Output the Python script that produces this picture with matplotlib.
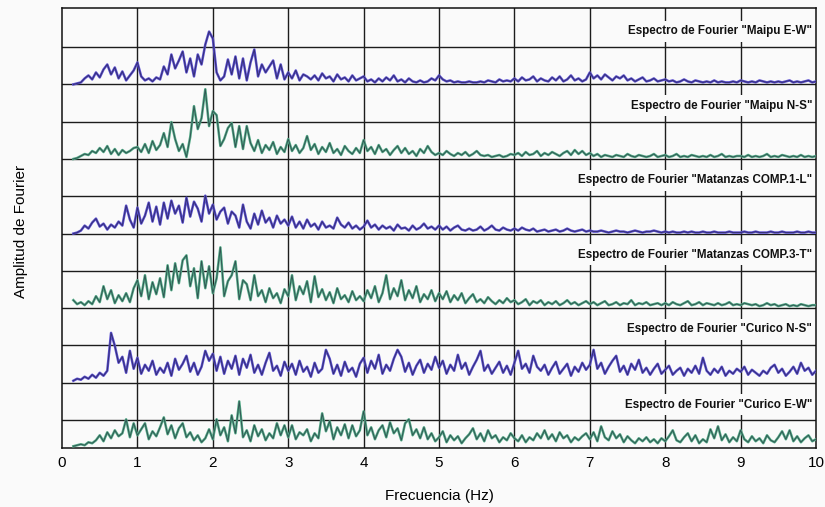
import numpy as np
import matplotlib
matplotlib.use("Agg")
import matplotlib.pyplot as plt

# Fourier amplitude spectra (relative amplitude), sampled every 0.05 Hz from 0.15 Hz to 10 Hz
F_START, F_STEP = 0.15, 0.05

maipu_ew = (
    [0, 1, 2, 6, 9, 5, 12, 7, 15, 20, 10, 17, 6, 13, 4, 9, 14]
    + [22, 8, 4, 6, 3, 7, 5, 18, 10, 30, 16, 24, 33, 12, 26, 8, 30, 20, 40, 53]
    + [46, 12, 4, 8, 25, 10, 28, 6, 26, 4, 22, 35, 8, 20, 12, 18, 24, 6, 20, 5]
    + [12, 6, 14, 4, 10, 8, 5, 9, 4, 11, 6, 8, 3, 10, 5, 7, 3, 9, 4, 6]
    + [8, 3, 5, 2, 6, 3, 7, 4, 9, 3, 5, 2, 6, 3, 2, 4, 2, 3, 6, 4]
    + [9, 5, 3, 4, 2, 3, 2, 2, 3, 2, 2, 3, 2, 4, 3, 2, 5, 3, 4, 3]
    + [6, 3, 7, 4, 5, 8, 3, 6, 4, 3, 7, 4, 8, 3, 5, 9, 4, 6, 3, 5]
    + [12, 6, 9, 5, 10, 7, 4, 8, 6, 9, 4, 6, 3, 5, 7, 3, 4, 6, 3, 4]
    + [5, 3, 4, 2, 3, 5, 3, 2, 4, 3, 2, 3, 2, 4, 2, 3, 2, 2, 3, 2]
    + [4, 3, 2, 3, 2, 4, 3, 2, 3, 2, 3, 2, 3, 4, 2, 3, 2, 3, 4, 2]
    + [3]
)

maipu_ns = (
    [0, 1, 3, 5, 4, 8, 6, 11, 7, 13, 5, 10, 4, 9, 6, 8, 11]
    + [12, 7, 15, 6, 18, 9, 14, 26, 12, 37, 20, 8, 15, 2, 22, 53, 30, 41, 70, 33]
    + [48, 44, 13, 20, 31, 36, 12, 33, 10, 33, 16, 8, 19, 6, 14, 9, 17, 5, 12, 7]
    + [20, 8, 14, 6, 11, 23, 9, 15, 5, 12, 7, 16, 6, 10, 4, 13, 8, 5, 11, 6]
    + [19, 8, 12, 5, 14, 7, 10, 4, 9, 13, 6, 11, 5, 8, 3, 10, 6, 13, 7, 4]
    + [6, 4, 8, 5, 3, 6, 4, 7, 3, 5, 8, 4, 3, 4, 2, 3, 4, 2, 3, 5]
    + [4, 6, 3, 7, 4, 5, 8, 3, 6, 4, 7, 5, 3, 6, 8, 4, 9, 5, 8, 4]
    + [6, 3, 5, 2, 4, 3, 2, 4, 3, 2, 5, 3, 2, 4, 3, 2, 3, 5, 2, 3]
    + [4, 2, 3, 5, 2, 3, 2, 4, 3, 2, 3, 2, 4, 2, 3, 5, 2, 3, 2, 3]
    + [3, 2, 4, 2, 3, 2, 3, 5, 2, 3, 2, 4, 3, 2, 3, 2, 4, 2, 3, 2]
    + [3]
)

matanzas_1l = (
    [0, 1, 3, 8, 5, 11, 15, 7, 10, 4, 9, 6, 12, 8, 28, 14, 6]
    + [26, 10, 18, 31, 12, 27, 9, 31, 15, 33, 20, 28, 11, 36, 17, 32, 25, 12, 38, 20]
    + [29, 14, 22, 26, 10, 22, 18, 6, 29, 12, 5, 20, 9, 23, 11, 16, 6, 18, 10, 14]
    + [8, 17, 6, 12, 5, 14, 7, 10, 4, 12, 6, 8, 5, 16, 9, 6, 11, 5, 8, 4]
    + [7, 13, 6, 9, 4, 8, 5, 7, 3, 9, 5, 6, 3, 8, 4, 6, 10, 5, 7, 4]
    + [8, 4, 7, 3, 6, 8, 4, 3, 5, 3, 4, 7, 3, 5, 8, 4, 3, 6, 4, 3]
    + [5, 3, 6, 4, 3, 5, 2, 3, 4, 2, 3, 4, 2, 3, 5, 3, 2, 3, 4, 2]
    + [3, 2, 2, 3, 2, 1, 2, 3, 2, 2, 1, 2, 3, 2, 1, 2, 2, 3, 2, 1]
    + [2, 1, 2, 1, 1, 2, 1, 2, 1, 1, 2, 1, 1, 2, 1, 1, 1, 2, 1, 1]
    + [1, 2, 1, 1, 2, 1, 1, 1, 2, 1, 1, 2, 1, 1, 1, 2, 1, 1, 2, 1]
    + [1]
)

matanzas_3t = (
    [8, 4, 6, 3, 7, 4, 12, 6, 22, 9, 18, 5, 13, 7, 15, 6, 20]
    + [28, 12, 33, 9, 26, 14, 30, 11, 43, 18, 45, 25, 48, 53, 22, 40, 10, 47, 20, 42]
    + [15, 30, 61, 12, 27, 33, 47, 9, 28, 24, 8, 33, 12, 18, 6, 20, 10, 15, 5, 19]
    + [12, 33, 8, 22, 14, 27, 6, 32, 11, 19, 8, 16, 5, 20, 9, 13, 6, 17, 8, 12]
    + [7, 18, 10, 22, 6, 15, 33, 9, 20, 12, 28, 8, 18, 10, 22, 6, 14, 9, 18, 7]
    + [15, 9, 17, 6, 13, 8, 15, 5, 10, 14, 6, 9, 5, 11, 7, 4, 8, 5, 10, 6]
    + [8, 4, 6, 9, 3, 7, 5, 8, 3, 6, 4, 7, 3, 5, 8, 4, 6, 3, 5, 7]
    + [4, 6, 3, 5, 7, 3, 4, 6, 3, 5, 4, 8, 3, 5, 4, 6, 3, 4, 5, 3]
    + [5, 3, 6, 4, 3, 5, 7, 3, 4, 6, 3, 5, 4, 3, 5, 3, 4, 6, 3, 4]
    + [3, 5, 4, 3, 4, 2, 3, 5, 3, 4, 2, 3, 4, 2, 3, 2, 4, 3, 2, 3]
    + [3]
)

curico_ns = (
    [2, 4, 3, 6, 4, 8, 5, 10, 7, 12, 50, 37, 20, 26, 10, 32, 14]
    + [25, 9, 18, 12, 22, 8, 15, 10, 20, 7, 24, 13, 19, 27, 11, 20, 8, 16, 32, 22]
    + [29, 12, 26, 9, 22, 14, 27, 8, 24, 15, 28, 10, 18, 8, 20, 30, 12, 17, 7, 21]
    + [12, 19, 8, 22, 11, 16, 6, 20, 10, 14, 33, 24, 9, 18, 7, 21, 11, 15, 6, 19]
    + [25, 10, 22, 14, 28, 9, 18, 12, 24, 33, 26, 11, 20, 8, 17, 23, 10, 19, 13, 26]
    + [15, 22, 9, 18, 12, 28, 14, 20, 8, 16, 23, 32, 12, 18, 9, 15, 21, 10, 17, 8]
    + [20, 32, 14, 19, 10, 27, 16, 12, 18, 8, 15, 21, 9, 14, 19, 7, 16, 11, 20, 13]
    + [18, 33, 14, 20, 9, 16, 22, 27, 11, 17, 8, 19, 13, 23, 10, 15, 8, 14, 19, 9]
    + [13, 17, 8, 12, 15, 7, 14, 10, 17, 9, 25, 12, 8, 14, 10, 16, 7, 12, 9, 14]
    + [11, 16, 8, 13, 10, 7, 12, 9, 15, 18, 10, 14, 7, 11, 16, 9, 20, 12, 15, 8]
    + [12]
)

curico_ew = (
    [1, 2, 3, 2, 5, 4, 7, 12, 6, 15, 9, 17, 11, 14, 28, 10, 24]
    + [12, 18, 24, 8, 16, 11, 20, 30, 13, 22, 9, 19, 24, 10, 15, 7, 12, 5, 9, 18]
    + [8, 28, 12, 20, 6, 32, 14, 46, 10, 17, 6, 22, 11, 18, 7, 14, 9, 24, 12, 22]
    + [10, 22, 8, 15, 12, 18, 6, 14, 9, 34, 16, 26, 8, 20, 12, 23, 9, 22, 11, 17]
    + [36, 12, 20, 8, 17, 22, 10, 25, 14, 19, 7, 24, 28, 12, 18, 9, 20, 8, 14, 6]
    + [10, 16, 5, 12, 7, 11, 4, 9, 13, 19, 8, 14, 6, 17, 9, 12, 5, 10, 7, 14]
    + [9, 6, 12, 5, 10, 7, 14, 9, 17, 8, 13, 6, 15, 9, 12, 5, 10, 7, 11, 14]
    + [8, 15, 6, 21, 10, 7, 16, 9, 13, 5, 11, 7, 4, 9, 6, 10, 5, 8, 4, 9]
    + [6, 11, 17, 7, 5, 10, 14, 6, 12, 4, 8, 5, 18, 9, 21, 7, 13, 5, 10, 6]
    + [17, 8, 5, 11, 6, 9, 4, 12, 7, 5, 10, 16, 8, 17, 6, 11, 5, 9, 12, 6]
    + [8]
)

series_labels = [
    'Espectro de Fourier "Maipu E-W"',
    'Espectro de Fourier "Maipu N-S"',
    'Espectro de Fourier "Matanzas COMP.1-L"',
    'Espectro de Fourier "Matanzas COMP.3-T"',
    'Espectro de Fourier "Curico N-S"',
    'Espectro de Fourier "Curico E-W"',
]
series_values = [maipu_ew, maipu_ns, matanzas_1l, matanzas_3t, curico_ns, curico_ew]
x_ticks = list(range(0, 11))

# stacking layout (in grid divisions)
offsets = [9.75, 7.75, 5.75, 3.75, 1.75, 0.02]
label_y = [11.18, 9.18, 7.18, 5.18, 3.18, 1.16]
amp_per_div = 37.4
blue = "#5a4ed0"
green = "#52aa86"
colors = [blue, green, blue, green, blue, green]
bg = "#fafafa"

fig = plt.figure(figsize=(8.25, 5.07), dpi=100)
fig.patch.set_facecolor(bg)
ax = fig.add_axes([0.0752, 0.1164, 0.9139, 0.8679])
ax.set_facecolor(bg)

ax.set_xlim(0, 10)
ax.set_ylim(0, 11.8)

for k in range(11):
    ax.axhline(0.75 + k, color="#1c1c1c", lw=1.0, zorder=1)
for xv in range(1, 10):
    ax.axvline(xv, color="#1c1c1c", lw=1.0, zorder=1)

for vals, off, ly, col, lab in zip(series_values, offsets, label_y, colors, series_labels):
    v = np.asarray(vals, dtype=float)
    f = F_START + F_STEP * np.arange(len(v))
    y = off + v / amp_per_div
    ax.plot(f, y, color=col, lw=1.8, zorder=3)
    ax.plot(f, y, color="#1a1a30", lw=0.65, alpha=0.6, zorder=4)
    ax.text(9.95, ly, lab, ha="right", va="center",
            fontsize=8.4, fontweight="bold",
            family=["Liberation Sans Narrow", "Liberation Sans"],
            color="#111111", zorder=2,
            bbox=dict(boxstyle="square,pad=0.38", fc=bg, ec="none"))

ax.set_xticks(x_ticks)
ax.set_xticklabels([str(t) for t in x_ticks], fontsize=11, family="Liberation Sans")
ax.set_yticks([])
ax.tick_params(axis="x", direction="in", length=0, pad=6)
for s in ax.spines.values():
    s.set_color("#111111")
    s.set_linewidth(1.1)

fig.text(0.533, 0.008, "Frecuencia (Hz)", ha="center", va="bottom",
         fontsize=11, family="Liberation Sans")
fig.text(0.026, 0.543, "Amplitud de Fourier", ha="center", va="center",
         rotation=90, fontsize=11, family="Liberation Sans")

fig.savefig("out.png", dpi=100, facecolor=fig.get_facecolor())
